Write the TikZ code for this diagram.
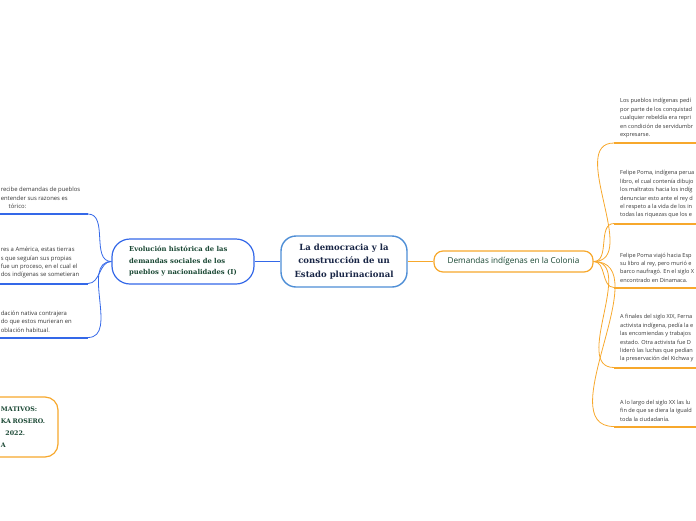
\documentclass[tikz,border=0pt]{standalone}
\usepackage{fontspec}
\setmainfont{Open Sans}
\newfontfamily\titrefont{DejaVu Serif}
\usetikzlibrary{positioning}
\definecolor{bleu}{RGB}{52,104,232}
\definecolor{bleuc}{RGB}{78,142,214}
\definecolor{orangec}{RGB}{247,168,44}
\definecolor{vertf}{RGB}{26,72,52}
\definecolor{marine}{RGB}{25,38,70}
\definecolor{grist}{RGB}{55,55,55}

\begin{document}
\begin{tikzpicture}[x=1pt, y=-1pt,
  centre/.style={rectangle, rounded corners=15pt, draw=bleuc, line width=1.4pt, fill=white,
                 align=center, font=\titrefont\bfseries\fontsize{8.5}{13.4}\selectfont, text=marine,
                 minimum width=126pt, minimum height=51pt, inner sep=0pt},
  branche/.style 2 args={rectangle, rounded corners=#2, draw=#1, line width=1.2pt, fill=white, inner sep=0pt},
  feuille/.style={inner xsep=1pt, inner ysep=5pt, align=flush left, text=grist,
                  font=\fontsize{5.9}{8.4}\selectfont},
  feuilled/.style={feuille, text width=100pt, inner xsep=6pt, anchor=south west,
                   font=\fontsize{5.6}{8.4}\selectfont},
  souligne/.style={line width=2pt, #1},
  courbe/.style={line width=0.8pt, #1}]

\useasboundingbox (0,0) rectangle (696,520);
\clip (0,0) rectangle (696,520);

% centre
\node[centre] (demo) at (344,261.5) {La democracia y la\\ construcción de un\\ Estado plurinacional};

% branche gauche
\node[branche={bleu}{18pt}, minimum width=142pt, minimum height=45pt, align=left, text=vertf,
      font=\titrefont\bfseries\fontsize{6.8}{11.5}\selectfont] (evol) at (183,261.5)
  {Evolución histórica de las\\ demandas sociales de los\\ pueblos y nacionalidades (I)};
\draw[line width=1.2pt, bleu] (evol) -- (demo);

\node[feuille, text width=86pt, anchor=south east] (g1) at (88,214)
  {recibe demandas de pueblos\\ entender sus razones es\\ \phantom{his}tórico:};
\node[feuille, text width=86pt, anchor=south east] (g2) at (88,283.5)
  {res a América, estas tierras\\ s que seguían sus propias\\ fue un proceso, en el cual el\\ dos indígenas se sometieran};
\node[feuille, text width=86pt, anchor=south east] (g3) at (88,337.5)
  {dación nativa contrajera\\ do que estos murieran en\\ oblación habitual.};
\foreach \f in {g1,g2,g3} {
  \draw[souligne=bleu] (\f.south west) -- (\f.south east);
  \draw[courbe=bleu] (evol.west) to[out=180,in=0] (\f.south east);
}

% datos
\node[branche={orangec}{13pt}, minimum width=78pt, minimum height=60pt, text width=36pt,
      align=flush left, text=vertf,
      font=\titrefont\bfseries\fontsize{6.3}{12}\selectfont] (datos) at (19,427)
  {MATIVOS:\\ KA~ROSERO.\\ \phantom{0}2022.\\ A};

% branche droite
\node[branche={orangec}{9pt}, minimum width=159pt, minimum height=21pt, text=vertf,
      font=\fontsize{8.2}{9}\selectfont] (colonia) at (513.5,261.5) {Demandas indígenas en la Colonia};
\draw[line width=1.2pt, orangec] (demo) -- (colonia);

\node[feuilled] (d1) at (614,143)
  {Los pueblos indígenas pedí\\ por parte de los conquistad\\ cualquier rebeldía era repri\\ en condición de servidumbr\\ expresarse.};
\node[feuilled] (d2) at (614,223.5)
  {Felipe Poma, indígena perua\\ libro, el cual contenía dibujo\\ los maltratos hacia los indíg\\ denunciar esto ante el rey d\\ el respeto a la vida de los in\\ todas las riquezas que los e};
\node[feuilled] (d3) at (614,287.5)
  {Felipe Poma viajó hacia Esp\\ su libro al rey, pero murió e\\ barco naufragó. En el siglo X\\ encontrado en Dinamaca.};
\node[feuilled] (d4) at (614,367.5)
  {A finales del siglo XIX, Ferna\\ activista indígena, pedía la e\\ las encomiendas y trabajos\\ estado. Otra activista fue D\\ lideró las luchas que pedían\\ la preservación del Kichwa y};
\node[feuilled] (d5) at (614,426.5)
  {A lo largo del siglo XX las lu\\ fin de que se diera la iguald\\ toda la ciudadanía.};
\foreach \f in {d1,d2,d3,d4,d5} {
  \draw[souligne=orangec] (\f.south west) -- (\f.south east);
  \draw[courbe=orangec] (colonia.east) to[out=0,in=180] (\f.south west);
}

\end{tikzpicture}
\end{document}
